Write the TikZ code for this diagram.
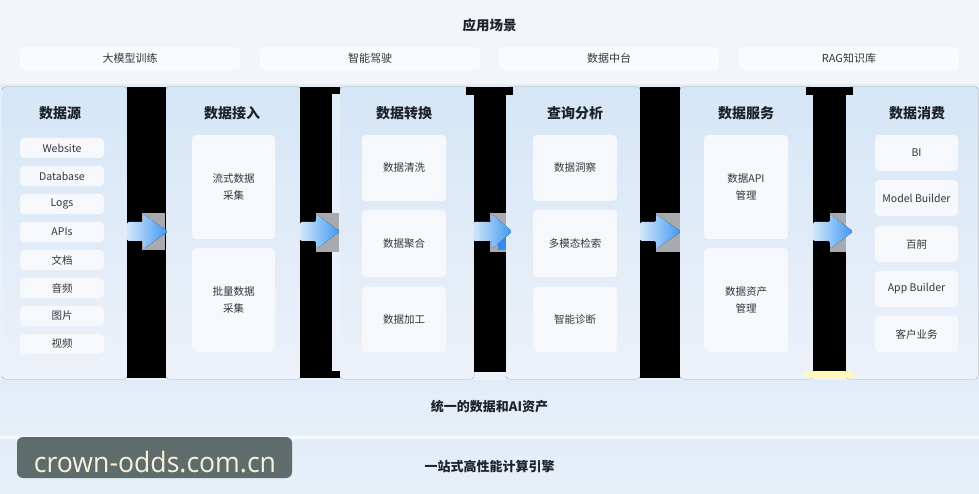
\documentclass[tikz,border=0pt]{standalone}
\usepackage{fontspec}
\setmainfont{Noto Sans CJK SC}
\newfontfamily\wmfont{Open Sans}
\definecolor{topbg}{HTML}{F3F5F8}
\definecolor{bandtop}{HTML}{D5E6F7}
\definecolor{bandbot}{HTML}{EDF1F9}
\definecolor{boxc}{HTML}{F6F8FC}
\definecolor{scenc}{HTML}{FAFBFC}
\definecolor{hdrc}{HTML}{1F2329}
\definecolor{txtc}{HTML}{33363B}
\definecolor{arrL}{HTML}{D3E7FA}
\definecolor{arrR}{HTML}{3E97F2}
\definecolor{grayart}{HTML}{A8AAAD}
\definecolor{wmbg}{HTML}{5E6D6B}
\definecolor{wmtx}{HTML}{F7F1DC}
\definecolor{bottomc}{HTML}{E2ECF8}
\tikzset{
  hdr/.style={font=\fontsize{14}{16}\selectfont\bfseries, text=hdrc},
  item/.style={fill=boxc, rounded corners=4pt, font=\fontsize{10.5}{17}\selectfont, text=txtc, align=center, inner sep=0pt},
  scen/.style={fill=scenc, rounded corners=4pt, font=\fontsize{11}{13}\selectfont, text=txtc, inner sep=0pt, minimum width=220pt, minimum height=23pt},
  panel/.style={top color=bandtop, bottom color=bandbot, rounded corners=3pt, draw=none},
  bar/.style={fill=black, draw=none},
  art/.style={fill=grayart, draw=none},
  flow/.style={left color=arrL, right color=arrR, draw=none, rounded corners=1.5pt},
}
\newcommand\flowarrow[3]{% body start, head base, tip
  \fill[flow] (#1,222) -- (#2,222) -- (#2,214) -- (#3,231.5) -- (#2,249) -- (#2,241) -- (#1,241) -- cycle;}
\begin{document}
\begin{tikzpicture}[x=1pt,y=-1pt]
\useasboundingbox (0,0) rectangle (979,494);
% backgrounds
\fill[topbg] (0,0) rectangle (979,85);
\fill[top color=bandtop!70!white, bottom color=bandbot] (0,85) rectangle (979,380);
\fill[top color=bottomc, bottom color=bottomc!80!white] (0,380) rectangle (979,436);
\fill[top color=bottomc, bottom color=bottomc!80!white] (0,438.5) rectangle (979,494);
\fill[white!70!bottomc] (0,436) rectangle (979,438.5);

% title & scenarios
\node[font=\fontsize{13.5}{16}\selectfont\bfseries, text=hdrc] (title) at (489.5,25) {应用场景};
\node[scen] (s1) at (130,58.5) {大模型训练};
\node[scen] (s2) at (370,58.5) {智能驾驶};
\node[scen] (s3) at (609,58.5) {数据中台};
\node[scen] (s4) at (849,58.5) {RAG知识库};

% panels
\fill[panel] (2,87) rectangle (127,379);
\fill[panel] (166,87) rectangle (301,379);
\fill[panel] (340,87) rectangle (474,379);
\fill[panel] (506,87) rectangle (640,379);
\fill[panel] (680,87) rectangle (813,379);
\fill[panel] (846,87) rectangle (978,379);

% headers
\node[hdr] (h1) at (60,113) {数据源};
\node[hdr] (h2) at (232,113) {数据接入};
\node[hdr] (h3) at (404,113) {数据转换};
\node[hdr] (h4) at (575,113) {查询分析};
\node[hdr] (h5) at (746,113) {数据服务};
\node[hdr] (h6) at (917,113) {数据消费};

% column 1
\foreach \t/\y/\n in {Website/148/a1, Database/176/a2, Logs/204/a3, APIs/232/a4, 文档/260/a5, 音频/288/a6, 图片/316/a7, 视频/344/a8}
  \node[item, minimum width=84pt, minimum height=20pt] (\n) at (62,\y) {\t};

% column 2
\node[item, minimum width=83pt, minimum height=104pt] (b1) at (233.5,187) {流式数据\\采集};
\node[item, minimum width=83pt, minimum height=104pt] (b2) at (233.5,300) {批量数据\\采集};

% column 3
\node[item, minimum width=84pt, minimum height=66pt] (c1) at (404,168) {数据清洗};
\node[item, minimum width=84pt, minimum height=67pt] (c2) at (404,243.5) {数据聚合};
\node[item, minimum width=84pt, minimum height=65pt] (c3) at (404,319.5) {数据加工};

% column 4
\node[item, minimum width=84pt, minimum height=66pt] (d1) at (575,168) {数据洞察};
\node[item, minimum width=84pt, minimum height=67pt] (d2) at (575,243.5) {多模态检索};
\node[item, minimum width=84pt, minimum height=65pt] (d3) at (575,319.5) {智能诊断};

% column 5
\node[item, minimum width=84pt, minimum height=104pt] (e1) at (746,187) {数据API\\管理};
\node[item, minimum width=84pt, minimum height=104pt] (e2) at (746,300) {数据资产\\管理};

% column 6
\foreach \t/\y/\n in {BI/153/f1, Model Builder/198/f2, 百舸/244/f3, App Builder/289/f4, 客户业务/334/f5}
  \node[item, minimum width=83pt, minimum height=36pt] (\n) at (916.5,\y) {\t};

% black bars (as in the image)
\fill[bar] (127,87) rectangle (166,378);
\fill[bar] (300,87) rectangle (332,378);
\fill[bar] (300,87) rectangle (340,94);
\fill[bar] (300,371) rectangle (340,378);
\fill[bar] (466,87) rectangle (513,95);
\fill[bar] (474,87) rectangle (506,372);
\fill[bar] (640,87) rectangle (680,378);
\fill[bar] (806,87) rectangle (853,95);
\fill[bar] (813,87) rectangle (846,371);
\fill[yellow!30!white] (806,371) rectangle (853,378);

% gray squares behind arrows
\fill[art] (142,213) rectangle (165,250);
\fill[art] (316,213) rectangle (339,252);
\fill[art] (490,213) rectangle (506,252);
\fill[arrR!90!blue] (498,237) rectangle (506,250);
\fill[art] (656,213) rectangle (680,252);
\fill[art] (830,213) rectangle (846,252);

% arrows
\flowarrow{127}{143}{168}
\flowarrow{300}{316}{340}
\flowarrow{473}{492}{512}
\flowarrow{640}{656}{681}
\flowarrow{813}{830}{853}

% bottom bands
\node[font=\fontsize{13}{15}\selectfont\bfseries, text=hdrc] (u1) at (489.5,407) {统一的数据和AI资产};
\node[font=\fontsize{13}{15}\selectfont\bfseries, text=hdrc] (u2) at (489.5,467) {一站式高性能计算引擎};

% watermark
\fill[wmbg, rounded corners=6pt] (17,437) rectangle (292,478);
\node[font=\wmfont\fontsize{28}{30}\selectfont, text=wmtx, xscale=0.95] (wm) at (155,462) {crown-odds.com.cn};
\end{tikzpicture}
\end{document}
